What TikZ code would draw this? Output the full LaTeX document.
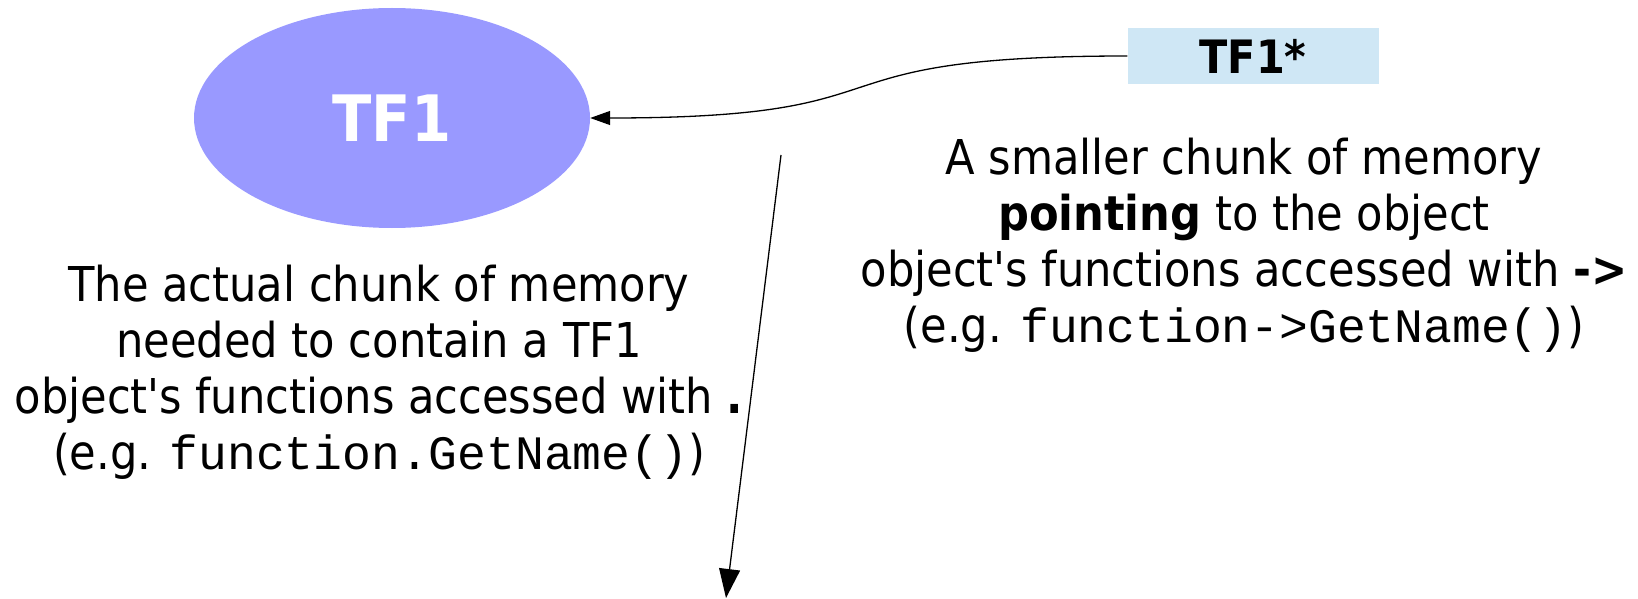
\documentclass[tikz,border=0pt]{standalone}
\usepackage{fontspec}
\setmainfont{DejaVu Sans Condensed}
\setmonofont{Liberation Mono}
\usetikzlibrary{arrows.meta}
\usetikzlibrary{shapes.geometric}

\definecolor{objblue}{HTML}{9999FF}
\definecolor{ptrblue}{HTML}{CFE7F5}

\tikzset{
	pointer/.style={line width=1.3pt, -{Triangle[length=20pt,width=14pt]}},
	note/.style={align=center, inner sep=0pt, font=\fontsize{48}{56}\selectfont}
}

\begin{document}
\begin{tikzpicture}[x=1pt,y=-1pt]
	\useasboundingbox (0,0) rectangle (1638,599);

	%Object in memory
	\node [ellipse, fill=objblue, inner sep=0pt, minimum width=396pt, minimum height=220pt,
		text=white, font=\fontsize{64}{64}\selectfont\bfseries] (obj) at (392,118) {TF1};
	%Pointer
	\node [fill=ptrblue, inner sep=0pt, minimum width=251pt, minimum height=56pt,
		font=\fontsize{46}{46}\selectfont\bfseries] (ptr) at (1253,56) {TF1*};

	%Pointer to object
	\draw [pointer] (ptr.west) to [out=180,in=0,looseness=1.6] (obj.east);

	%Text at the left
	\node [note] (objtext) at (379,372) {The actual chunk of memory\\
		needed to contain a TF1\\
		object\textquotesingle s functions accessed with \textbf{.}\\
		(e.g. \texttt{function.GetName()})};

	%Text at the right
	\node [note] (ptrtext) at (1244,245) {A smaller chunk of memory\\
		\textbf{pointing} to the object\\
		object\textquotesingle s functions accessed with \textbf{->}\\
		(e.g. \texttt{function->GetName()})};

	%Arrow going down
	\coordinate (down start) at (781,155);
	\coordinate (down end) at (726,598);
	\draw [pointer, -{Triangle[length=29pt,width=21pt]}] (down start) -- (down end);
\end{tikzpicture}
\end{document}
